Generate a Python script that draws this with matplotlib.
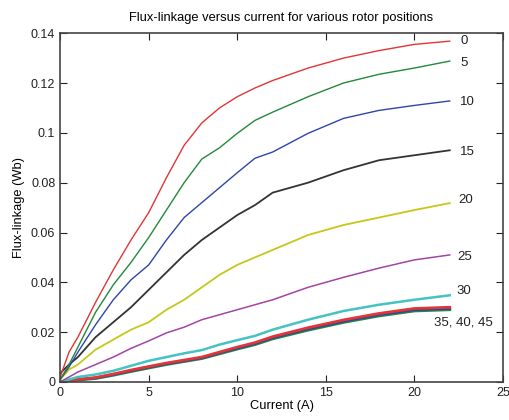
import matplotlib
matplotlib.use("Agg")
import matplotlib.pyplot as plt

plt.rcParams['font.family'] = ['Liberation Sans', 'DejaVu Sans']

current = [0, 0.5, 1, 2, 3, 4, 5, 6, 7, 8, 9, 10, 11, 12, 14, 16, 18, 20, 22]

flux_0 = [0.002, 0.012, 0.018, 0.032, 0.045, 0.057, 0.068, 0.082, 0.095, 0.104, 0.110,
          0.1145, 0.118, 0.121, 0.126, 0.130, 0.133, 0.1355, 0.1368]
flux_5 = [0.001, 0.007, 0.014, 0.028, 0.039, 0.048, 0.058, 0.069, 0.080, 0.0895, 0.094,
          0.0998, 0.105, 0.1083, 0.1145, 0.120, 0.1235, 0.126, 0.1288]
flux_10 = [0.001, 0.006, 0.012, 0.023, 0.033, 0.041, 0.047, 0.057, 0.066, 0.072, 0.078,
           0.084, 0.0898, 0.0923, 0.0998, 0.1058, 0.109, 0.111, 0.1128]
flux_15 = [0.0035, 0.007, 0.010, 0.018, 0.024, 0.030, 0.037, 0.044, 0.051, 0.057, 0.062,
           0.067, 0.071, 0.076, 0.080, 0.085, 0.089, 0.091, 0.093]
flux_20 = [0.001, 0.005, 0.007, 0.013, 0.017, 0.021, 0.024, 0.029, 0.033, 0.038, 0.043,
           0.047, 0.050, 0.053, 0.059, 0.063, 0.066, 0.069, 0.0718]
flux_25 = [0.0, 0.002, 0.004, 0.007, 0.010, 0.0135, 0.0165, 0.0197, 0.022, 0.025, 0.027,
           0.029, 0.031, 0.033, 0.038, 0.042, 0.0457, 0.049, 0.051]
flux_30 = [0.0, 0.001, 0.002, 0.003, 0.0045, 0.0065, 0.0085, 0.010, 0.0115, 0.0128, 0.015,
           0.0168, 0.0185, 0.021, 0.025, 0.0285, 0.031, 0.033, 0.0348]
flux_35 = [0.0, 0.0005, 0.001, 0.0018, 0.0032, 0.0048, 0.0062, 0.0076, 0.0088, 0.010, 0.012,
           0.014, 0.0158, 0.0182, 0.0218, 0.0249, 0.0275, 0.0295, 0.030]
flux_40 = [0.0, 0.0005, 0.001, 0.0016, 0.003, 0.0045, 0.006, 0.0073, 0.0085, 0.0097, 0.0117,
           0.0136, 0.0154, 0.0178, 0.0213, 0.0244, 0.027, 0.029, 0.0295]
flux_45 = [0.0, 0.0004, 0.0008, 0.0014, 0.0027, 0.0042, 0.0056, 0.007, 0.0082, 0.0094, 0.0113,
           0.0132, 0.015, 0.0173, 0.0208, 0.0239, 0.0265, 0.0285, 0.029]

series = [flux_0, flux_5, flux_10, flux_15, flux_20, flux_25, flux_30, flux_35, flux_40, flux_45]
colors = ['#e23535', '#23893a', '#2d46a8', '#333333', '#c8c618', '#a245a4', '#45c2c2',
          '#e23535', '#2d46a8', '#23893a']
widths = [1, 1, 1, 1.3, 1.3, 1.1, 1.8, 2, 2, 2]

labels = ['0', '5', '10', '15', '20', '25', '30', '35, 40, 45']
label_x = [22.6, 22.6, 22.6, 22.6, 22.5, 22.4, 22.4, 21.1]
label_y = [0.1369, 0.128, 0.1123, 0.0923, 0.073, 0.0501, 0.0365, 0.0237]

fig = plt.figure(figsize=(5.1, 4.2), dpi=100)
ax = fig.add_axes([0.118, 0.0905, 0.868, 0.8305])

# draw the lower ones first so the steep curves sit on top
for i in range(len(series) - 1, -1, -1):
    ax.plot(current, series[i], color=colors[i], lw=widths[i])

for t, x, y in zip(labels, label_x, label_y):
    ax.text(x, y, t, fontsize=9.5, va='center', ha='left', color='#222222')

ax.set_xlim(0, 25)
ax.set_ylim(0, 0.14)
ax.set_xticks([0, 5, 10, 15, 20, 25])
ax.set_yticks([0, 0.02, 0.04, 0.06, 0.08, 0.1, 0.12, 0.14])
ax.set_yticklabels(['0', '0.02', '0.04', '0.06', '0.08', '0.1', '0.12', '0.14'])
ax.tick_params(direction='in', top=True, right=True, length=5, labelsize=9, colors='#222222')
for s in ax.spines.values():
    s.set_color('#444444')
    s.set_linewidth(1.2)

ax.set_title('Flux-linkage versus current for various rotor positions', fontsize=9.3, pad=9)
ax.set_xlabel('Current (A)', fontsize=9.3, labelpad=1)
ax.set_ylabel('Flux-linkage (Wb)', fontsize=9.3, labelpad=4)

fig.savefig('out.png', dpi=100)
